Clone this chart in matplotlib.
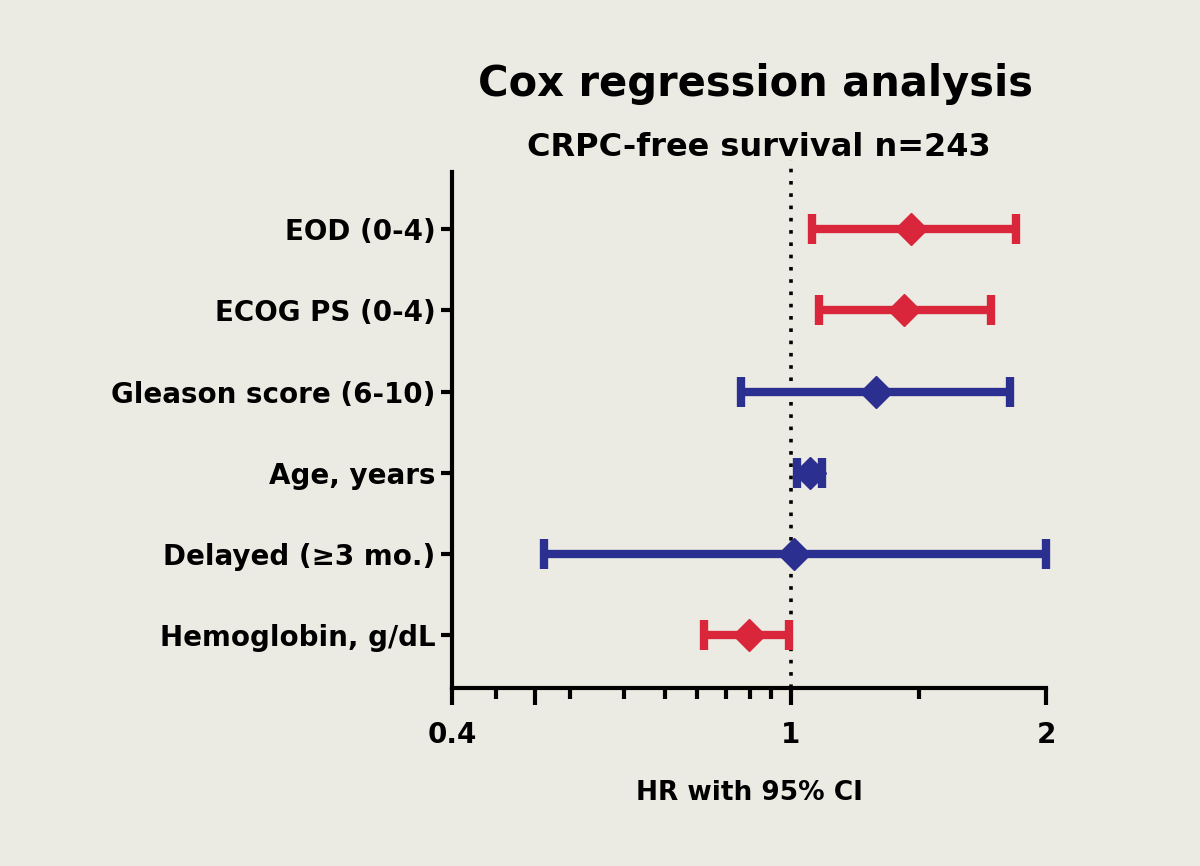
import matplotlib
matplotlib.use("Agg")
import matplotlib.pyplot as plt
import numpy as np

# Cox regression, CRPC-free survival (n=243)
variables = ["EOD (0-4)", "ECOG PS (0-4)", "Gleason score (6-10)",
             "Age, years", "Delayed (\u22653 mo.)", "Hemoglobin, g/dL"]
hr = [1.385, 1.36, 1.26, 1.053, 1.01, 0.894]
ci_low = [1.06, 1.08, 0.874, 1.017, 0.513, 0.79]
ci_high = [1.84, 1.72, 1.81, 1.09, 2.0, 0.995]
significant = [True, True, False, False, False, True]

major_ticks = [0.4, 0.5, 1, 2]
major_labels = ["0.4", "", "1", "2"]
minor_ticks = [0.45, 0.55, 0.636, 0.712, 0.777, 0.839, 0.896, 0.949, 1.416]

RED = "#d9263a"
BLUE = "#2b2f8f"
PAPER = "#ecebe3"

plt.rcParams["font.family"] = ["DejaVu Sans"]
plt.rcParams["font.weight"] = "bold"

fig = plt.figure(figsize=(12, 8.66), dpi=100, facecolor=PAPER)
ax = fig.add_axes([0.377, 0.2055, 0.495, 0.5955], facecolor=PAPER)

n = len(variables)
ypos = np.arange(n, 0, -1)

for i in range(n):
    color = RED if significant[i] else BLUE
    eb = ax.errorbar(hr[i], ypos[i],
                     xerr=[[hr[i] - ci_low[i]], [ci_high[i] - hr[i]]],
                     fmt="D", color=color, ms=16, elinewidth=6,
                     capsize=11, capthick=6, zorder=3)
    for art in eb.get_children():
        art.set_clip_on(False)

# reference line at HR = 1, runs a little above the axis top
ax.plot([1, 1], [0.35, 6.85], color="black", linestyle=(0, (1, 2.4)),
        lw=2.6, zorder=2, clip_on=False)

ax.set_xscale("log")
ax.set_xlim(0.4, 2)
ax.set_ylim(0.35, 6.7)

ax.set_xticks(major_ticks)
ax.set_xticklabels(major_labels)
ax.set_xticks(minor_ticks, minor=True)
ax.xaxis.set_minor_formatter(matplotlib.ticker.NullFormatter())
ax.tick_params(axis="x", which="major", length=12, width=3, labelsize=20, pad=12)
ax.tick_params(axis="x", which="minor", length=8, width=3)

ax.set_yticks(ypos)
ax.set_yticklabels(variables)
ax.tick_params(axis="y", length=8, width=3, labelsize=20, pad=4)

for side in ["top", "right"]:
    ax.spines[side].set_visible(False)
for side in ["left", "bottom"]:
    ax.spines[side].set_linewidth(3)

ax.set_xlabel("HR with 95% CI", fontsize=19, fontweight="bold", labelpad=22)

fig.text(0.63, 0.903, "Cox regression analysis", ha="center", va="center",
         fontsize=30, fontweight="bold")
fig.text(0.632, 0.83, "CRPC-free survival n=243", ha="center", va="center",
         fontsize=23, fontweight="bold")

fig.savefig("out.png", dpi=100, facecolor=PAPER)
